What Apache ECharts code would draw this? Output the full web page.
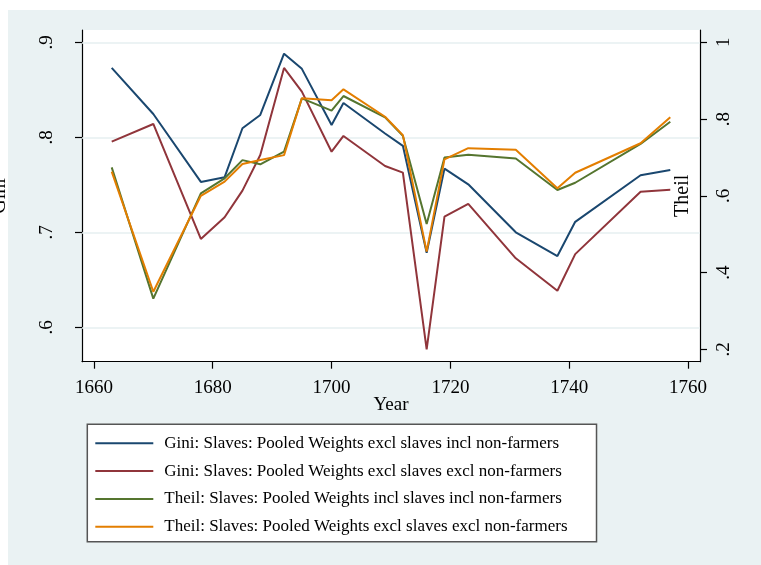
<!DOCTYPE html>
<html>
<head>
<meta charset="utf-8">
<script src="https://cdn.jsdelivr.net/npm/echarts@6/dist/echarts.min.js"></script>
<style>
html,body{margin:0;padding:0;background:#fff;}
#c{width:761px;height:565px;}
</style>
</head>
<body>
<div id="c"></div>
<script>
var years = [1663,1670,1678,1682,1685,1688,1692,1695,1700,1702,1709,1712,1716,1719,1723,1731,1738,1741,1752,1757];
var giniIncl = [.873,.8245,.753,.758,.8095,.8235,.888,.872,.813,.836,.804,.791,.6785,.767,.7505,.700,.675,.711,.760,.7656];
var giniExcl = [.7954,.814,.693,.7158,.7438,.7814,.873,.848,.7848,.8014,.7698,.7628,.5768,.7164,.730,.6726,.6385,.677,.7427,.7448];
var theilIncl = [.674,.332,.6065,.6456,.693,.682,.715,.854,.822,.860,.8045,.756,.5265,.700,.707,.697,.615,.634,.735,.793];
var theilExcl = [.663,.350,.600,.637,.683,.693,.706,.854,.849,.8775,.806,.758,.4544,.695,.724,.720,.6195,.660,.737,.8045];
var xTicks = [1660,1680,1700,1720,1740,1760];
var giniTicks = [.6,.7,.8,.9];
var theilTicks = [.2,.4,.6,.8,1];
var seriesNames = [
  'Gini: Slaves: Pooled Weights excl slaves incl non-farmers',
  'Gini: Slaves: Pooled Weights excl slaves excl non-farmers',
  'Theil: Slaves: Pooled Weights incl slaves incl non-farmers',
  'Theil: Slaves: Pooled Weights excl slaves excl non-farmers'
];
var colors = ['#1a476f','#90353b','#55752f','#e37e00'];

function pairs(vals){ return years.map(function(y,i){ return [y, vals[i]]; }); }
function fmt(v){ var r = Math.round(v*10)/10; return r === 1 ? '1' : String(r).replace(/^0\./,'.'); }

var FONT = 'Liberation Serif';
var chart = echarts.init(document.getElementById('c'), null, {renderer:'canvas'});
var axisLineStyle = {color:'#000', width:1.2};
chart.setOption({
  animation:false,
  color: colors,
  textStyle:{fontFamily:FONT, color:'#000'},
  graphic:[{type:'rect', z:-100, silent:true, shape:{x:8,y:10,width:753,height:555}, style:{fill:'#eaf2f3'}}],
  grid:{left:82, right:61, top:30, bottom:203.3, show:true, backgroundColor:'#fff', borderWidth:0,
        containLabel:false, outerBoundsMode:'none'},
  legend:{
    orient:'vertical', left:87.3, top:424.3,
    icon:'rect', itemWidth:58, itemHeight:2, itemGap:7.8,
    padding:[9,29,5,8],
    backgroundColor:'#fff', borderColor:'#555', borderWidth:1.5,
    textStyle:{fontFamily:FONT, fontSize:17, lineHeight:20, color:'#000', padding:[0,0,0,6]},
    data: seriesNames
  },
  xAxis:{
    type:'value', min:1658, max:1762,
    name:'Year', nameLocation:'middle', nameGap:34, nameMoveOverlap:false,
    nameTextStyle:{fontFamily:FONT, fontSize:19, color:'#000'},
    axisLine:{show:true, lineStyle:axisLineStyle},
    axisTick:{show:true, length:7, lineStyle:axisLineStyle, customValues:xTicks},
    axisLabel:{fontFamily:FONT, fontSize:19, color:'#000', margin:17, customValues:xTicks,
               formatter:function(v){ return String(Math.round(v)); }},
    splitLine:{show:false}
  },
  yAxis:[{
    type:'value', position:'left', min:0.5638, max:0.9129,
    name:'Gini', nameLocation:'middle', nameGap:72, nameRotate:90, nameMoveOverlap:false,
    nameTextStyle:{fontFamily:FONT, fontSize:20, color:'#000'},
    axisLine:{show:true, lineStyle:axisLineStyle},
    axisTick:{show:true, length:7, lineStyle:axisLineStyle, customValues:giniTicks},
    axisLabel:{fontFamily:FONT, fontSize:19, color:'#000', rotate:90, margin:25, customValues:giniTicks, formatter:fmt},
    splitLine:{show:false}
  },{
    type:'value', position:'right', min:0.1677, max:1.032,
    name:'Theil', nameLocation:'middle', nameGap:-27, nameRotate:90, nameMoveOverlap:false,
    nameTextStyle:{fontFamily:FONT, fontSize:20, color:'#000'},
    axisLine:{show:true, lineStyle:axisLineStyle},
    axisTick:{show:true, length:7, lineStyle:axisLineStyle, customValues:theilTicks},
    axisLabel:{fontFamily:FONT, fontSize:19, color:'#000', rotate:90, margin:15, customValues:theilTicks, formatter:fmt},
    splitLine:{show:false}
  }],
  series:[
    {name:seriesNames[0], type:'line', yAxisIndex:0, data:pairs(giniIncl), symbol:'none', lineStyle:{width:2},
     markLine:{silent:true, symbol:'none', z:1, label:{show:false}, lineStyle:{color:'#e6eff1', width:1.6, type:'solid'},
       data: giniTicks.map(function(v){ return {yAxis:v}; })}},
    {name:seriesNames[1], type:'line', yAxisIndex:0, data:pairs(giniExcl), symbol:'none', lineStyle:{width:2}},
    {name:seriesNames[2], type:'line', yAxisIndex:1, data:pairs(theilIncl), symbol:'none', lineStyle:{width:2}},
    {name:seriesNames[3], type:'line', yAxisIndex:1, data:pairs(theilExcl), symbol:'none', lineStyle:{width:2}}
  ]
});
</script>
</body>
</html>
